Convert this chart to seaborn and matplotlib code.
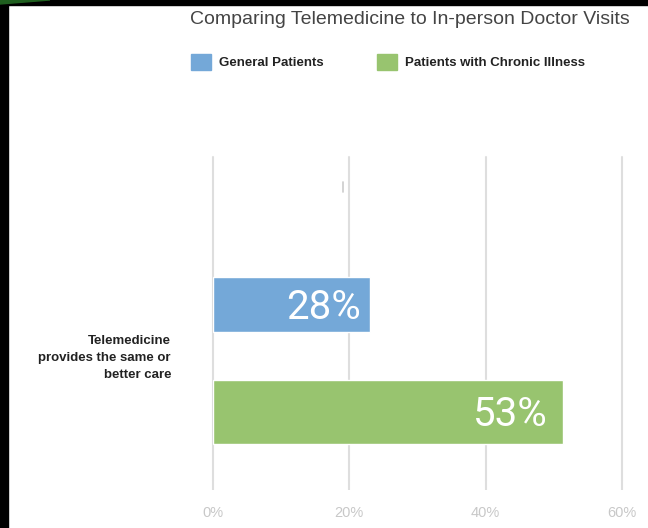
import matplotlib
matplotlib.use('Agg')
import matplotlib.pyplot as plt
import seaborn as sns
import pandas as pd
from matplotlib.patches import Rectangle, Polygon
from matplotlib.lines import Line2D

title = "Comparing Telemedicine to In-person Doctor Visits"
category = "Telemedicine\nprovides the same or\nbetter care"
groups = ["General Patients", "Patients with Chronic Illness"]
bar_values = [23.1, 51.3]   # bar lengths as drawn in the picture (% of axis)
bar_labels = ["28%", "53%"]
xticks = [0, 20, 40, 60]
xtick_labels = ["0%", "20%", "40%", "60%"]
colors = ["#74A8D8", "#98C46F"]

df = pd.DataFrame({"group": groups, "value": bar_values})

sns.set_theme(style="white")
plt.rcParams['font.family'] = ['Liberation Sans', 'DejaVu Sans']

fig = plt.figure(figsize=(6.48, 5.28), dpi=100)
W, H = 648, 528
ax = fig.add_axes([213 / W, 1 - 480 / H, (622 - 213) / W, (480 - 157) / H])
sns.barplot(data=df, y="group", x="value", hue="group", palette=colors,
            orient="h", width=0.55, ax=ax, legend=False, saturation=1)

# adjust bar thickness slightly as in reference
heights = [0.512, 0.595]
for p, h in zip(ax.patches, heights):
    c = p.get_y() + p.get_height() / 2
    p.set_y(c - h / 2)
    p.set_height(h)

ax.set_xlim(0, 60)
ax.set_ylim(1.633, -1.372)
ax.set_xticks(xticks)
ax.set_xticklabels(xtick_labels)
ax.set_yticks([])
ax.set_xlabel("")
ax.set_ylabel("")
for s in ax.spines.values():
    s.set_visible(False)
ax.grid(axis='x', color='#dedede', lw=1.5)
for gl in ax.get_xgridlines():
    gl.set_clip_on(False)
ax.set_axisbelow(True)
ax.tick_params(axis='x', length=7, width=1.5, color='#dedede', labelcolor='#c8c8c8',
               labelsize=10.5, pad=12, bottom=True)

offsets = [-7, -11]
for i, (v, lab, off) in enumerate(zip(bar_values, bar_labels, offsets)):
    ax.annotate(lab, xy=(v, i), xytext=(off, -2), textcoords='offset points',
                ha='right', va='center', color='white', fontsize=29,
                fontfamily='Roboto', fontweight='normal')

fig.text(171 / W, 1 - 358 / H, category, ha='right', va='center',
         fontsize=9.5, fontweight='bold', color='#222222', linespacing=1.6,
         multialignment='right')

fig.text(190 / W, 1 - 20 / H, title, ha='left', va='center', fontsize=14, color='#444444')

handles = [Rectangle((0, 0), 1, 1, color=c) for c in colors]
leg = fig.legend(handles, groups, loc='center left', bbox_to_anchor=(191 / W, 1 - 62 / H),
                 ncol=2, frameon=False, handlelength=1.55, handleheight=1.55,
                 handletextpad=0.6, columnspacing=4.0, borderpad=0, borderaxespad=0,
                 prop={'weight': 'bold', 'size': 9.5})
for t in leg.get_texts():
    t.set_color('#222222')

# frame artefacts of the screenshot
fig.patches.append(Rectangle((0, 0), 8 / W, 1, transform=fig.transFigure, color='black', zorder=10))
fig.patches.append(Rectangle((0, 1 - 5 / H), 1, 5 / H, transform=fig.transFigure, color='black', zorder=10))
fig.patches.append(Polygon([(0, 1), (50 / W, 1), (0, 1 - 4 / H)],
                           closed=True, transform=fig.transFigure, color='#1f5f1f', zorder=11))
fig.lines.append(Line2D([343 / W, 343 / W], [1 - 182 / H, 1 - 192 / H], color='#cccccc',
                        lw=1.2, transform=fig.transFigure))

fig.savefig("out.png", dpi=100, facecolor='white')
